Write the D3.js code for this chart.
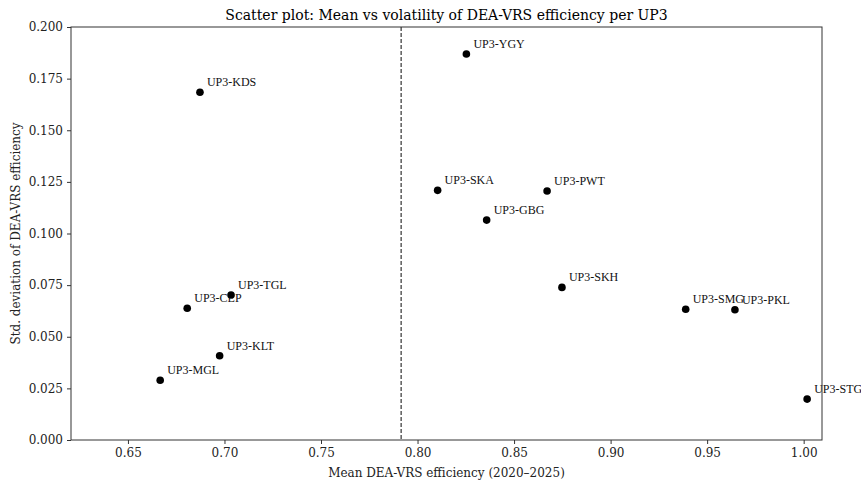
<!DOCTYPE html>
<html>
<head>
<meta charset="utf-8">
<script src="https://cdn.jsdelivr.net/npm/d3@7"></script>
<style>
  body { margin: 0; background: #fff; }
  svg text { font-family: "DejaVu Serif", serif; }
</style>
</head>
<body>
<div id="chart"></div>
<script>
// data
const units = ["UP3-KDS", "UP3-YGY", "UP3-SKA", "UP3-PWT", "UP3-GBG", "UP3-TGL", "UP3-CEP",
               "UP3-KLT", "UP3-MGL", "UP3-SKH", "UP3-SMG", "UP3-PKL", "UP3-STG"];
const meanEff = [0.6873, 0.8253, 0.8104, 0.8671, 0.8358, 0.7034, 0.6807,
                 0.6975, 0.6667, 0.8748, 0.9389, 0.9644, 1.0018];
const stdEff = [0.1684, 0.1869, 0.1209, 0.1206, 0.1065, 0.0702, 0.0638,
                0.0408, 0.0289, 0.0739, 0.0633, 0.0631, 0.0198];
const threshold = 0.7915;
const xTicks = [0.65, 0.70, 0.75, 0.80, 0.85, 0.90, 0.95, 1.00];
const yTicks = [0.000, 0.025, 0.050, 0.075, 0.100, 0.125, 0.150, 0.175, 0.200];

const config = {
    width: 861,
    height: 482,
    margin: {top: 27, right: 39, bottom: 42, left: 71}
};

const data = units.map((u, i) => ({name: u, x: meanEff[i], y: stdEff[i]}));

const svg = d3.select('#chart').append('svg')
    .attr('width', config.width)
    .attr('height', config.height);

const w = config.width - config.margin.left - config.margin.right;
const h = config.height - config.margin.top - config.margin.bottom;

const x = d3.scaleLinear().domain([0.6205, 1.0095]).range([0, w]);
const y = d3.scaleLinear().domain([0, 0.2]).range([h, 0]);

const g = svg.append('g')
    .attr('transform', `translate(${config.margin.left},${config.margin.top})`);

// title
svg.append('text')
    .attr('x', config.margin.left + w / 2)
    .attr('y', 20)
    .attr('text-anchor', 'middle')
    .attr('font-size', 14)
    .attr('fill', '#000')
    .text('Scatter plot: Mean vs volatility of DEA-VRS efficiency per UP3');

// axes
const xAxis = g.append('g')
    .attr('transform', `translate(0,${h})`)
    .call(d3.axisBottom(x).tickValues(xTicks).tickFormat(d3.format('.2f')).tickSize(4).tickPadding(4));
const yAxis = g.append('g')
    .call(d3.axisLeft(y).tickValues(yTicks).tickFormat(d3.format('.3f')).tickSize(4).tickPadding(4));

[xAxis, yAxis].forEach(a => {
    a.select('.domain').remove();
    a.selectAll('.tick line').attr('stroke', '#333');
    a.selectAll('.tick text').attr('font-size', 12).attr('fill', '#222')
        .style('font-family', '"DejaVu Serif", serif');
});

// axis labels
svg.append('text')
    .attr('x', config.margin.left + w / 2)
    .attr('y', config.height - 5)
    .attr('text-anchor', 'middle')
    .attr('font-size', 12)
    .attr('fill', '#222')
    .text('Mean DEA-VRS efficiency (2020\u20132025)');

svg.append('text')
    .attr('transform', `translate(20,${config.margin.top + h / 2}) rotate(-90)`)
    .attr('text-anchor', 'middle')
    .attr('font-size', 12)
    .attr('fill', '#222')
    .text('Std. deviation of DEA-VRS efficiency');

// threshold line
g.append('line')
    .attr('x1', x(threshold)).attr('x2', x(threshold))
    .attr('y1', 0).attr('y2', h)
    .attr('stroke', '#333')
    .attr('stroke-width', 1.2)
    .attr('stroke-dasharray', '4,2');

// point labels
g.selectAll('text.lbl')
    .data(data)
    .enter()
    .append('text')
    .attr('class', 'lbl')
    .attr('x', d => x(d.x) + 7)
    .attr('y', d => y(d.y) - 6)
    .attr('font-size', 12)
    .attr('fill', '#111')
    .style('font-family', '"Liberation Serif", serif')
    .text(d => d.name);

// points
g.selectAll('circle')
    .data(data)
    .enter()
    .append('circle')
    .attr('cx', d => x(d.x))
    .attr('cy', d => y(d.y))
    .attr('r', 3.8)
    .attr('fill', '#000');

// frame
g.append('rect')
    .attr('width', w)
    .attr('height', h)
    .attr('fill', 'none')
    .attr('stroke', '#333')
    .attr('stroke-width', 1);
</script>
</body>
</html>
